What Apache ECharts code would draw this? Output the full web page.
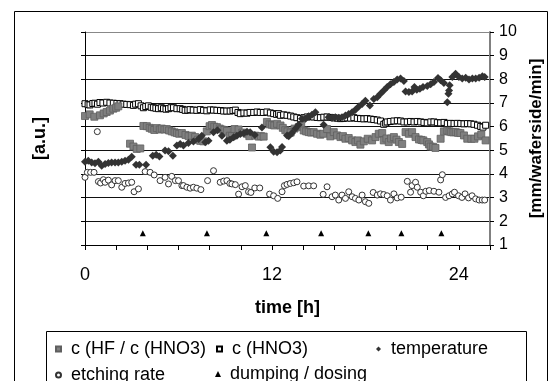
<!DOCTYPE html>
<html><head><meta charset="utf-8">
<script src="https://cdn.jsdelivr.net/npm/echarts@6/dist/echarts.min.js"></script>
<style>html,body{margin:0;padding:0;background:#fff}#c{width:559px;height:381px}</style>
</head><body><div id="c"></div>
<script>
// ---- data ----
const xLabels = [0, 12, 24];
const yLabels = [1, 2, 3, 4, 5, 6, 7, 8, 9, 10];

const ratioT = [0,0.3,0.6,0.96,1.2,1.39,1.6,1.82,2.0,2.14,2.89,3.11,3.32,3.55,3.75,3.97,4.15,4.29,4.45,4.61,4.8,4.93,5.1,5.25,5.4,5.57,5.75,5.9,6.05,6.22,6.45,6.65,6.86,7.07,7.25,7.4,7.6,7.82,8.0,8.15,8.3,8.47,8.65,8.79,8.95,9.11,9.3,9.43,9.6,9.86,10.1,10.4,10.55,10.72,10.93,11.15,11.3,11.47,11.68,11.85,12.0,12.15,12.33,12.55,12.7,12.86,13.0,13.2,13.45,13.72,13.88,14.04,14.2,14.36,14.52,14.68,14.9,15.11,15.3,15.54,15.75,15.97,16.18,16.4,16.56,16.72,16.93,17.15,17.36,17.52,17.68,17.9,18.15,18.43,18.65,18.86,19.08,19.18,19.35,19.5,19.65,19.83,20.0,20.15,20.36,20.58,20.79,21.0,21.22,21.44,21.6,21.72,21.97,22.08,22.19,22.35,22.5,22.83,23.04,23.26,23.4,23.51,23.65,23.8,23.95,24.1,24.33,24.54,24.8,25.0,25.23,25.44,25.72];
const ratioV = [6.45,6.52,6.42,6.48,6.56,6.62,6.68,6.76,6.8,6.86,5.28,5.16,5.06,5.08,6.03,6.02,5.95,5.91,5.86,5.94,5.88,5.92,5.88,5.9,5.84,5.8,5.76,5.73,5.7,5.73,5.65,5.6,5.62,5.56,5.45,5.4,5.38,5.8,6.02,6.07,6.0,5.98,5.92,5.88,5.86,5.82,5.62,5.6,5.9,5.88,5.75,5.7,5.6,5.12,5.62,5.58,5.6,5.58,6.2,6.1,6.08,6.05,6.12,6.05,5.95,5.85,5.8,5.75,5.92,5.98,6.05,5.84,5.8,5.77,5.75,5.77,5.7,5.66,5.7,5.9,5.59,5.77,5.63,5.56,5.6,5.49,5.52,5.42,5.35,5.42,5.24,5.38,5.49,5.42,5.56,5.7,5.73,5.42,5.5,5.35,5.5,5.56,5.45,5.35,5.27,5.77,5.7,5.77,5.56,5.46,5.44,5.42,5.35,5.25,5.16,5.15,5.1,5.49,5.8,5.83,5.8,5.77,5.76,5.77,5.74,5.73,5.63,5.49,5.49,5.49,5.59,5.67,5.42];

const hno3T = [0,0.2,0.32,0.5,0.64,0.8,0.96,1.15,1.39,1.6,1.82,2.05,2.25,2.45,2.68,2.9,3.11,3.25,3.43,3.6,3.75,3.9,4.07,4.25,4.39,4.55,4.72,4.9,5.04,5.2,5.36,5.52,5.68,5.9,6.11,6.27,6.43,6.6,6.75,6.95,7.18,7.4,7.61,7.82,8.04,8.25,8.47,8.7,8.9,9.1,9.32,9.5,9.65,9.82,9.97,10.2,10.4,10.6,10.83,11.05,11.25,11.45,11.68,11.9,12.11,12.3,12.43,12.54,12.75,12.97,13.2,13.4,13.6,13.83,14.05,14.26,14.47,14.68,14.9,15.11,15.33,15.54,15.75,15.97,16.2,16.4,16.6,16.83,17.05,17.26,17.48,17.69,17.9,18.11,18.33,18.54,18.76,18.97,19.18,19.3,19.4,19.6,19.83,20.05,20.26,20.47,20.69,20.9,21.12,21.33,21.55,21.76,21.97,22.2,22.4,22.62,22.83,23.05,23.26,23.47,23.69,23.9,24.12,24.33,24.55,24.76,24.97,25.2,25.4,25.55,25.72];
const hno3V = [6.97,6.93,6.92,6.98,6.99,6.95,7.02,7.0,7.03,7.0,6.99,6.98,6.97,6.95,6.94,6.93,6.9,6.95,6.97,6.88,6.8,6.85,6.88,6.82,6.8,6.78,6.76,6.8,6.76,6.74,6.76,6.8,6.8,6.76,6.76,6.73,6.69,6.7,6.72,6.7,6.69,6.72,6.69,6.67,6.71,6.7,6.69,6.68,6.66,6.66,6.66,6.68,6.7,6.6,6.55,6.58,6.57,6.6,6.6,6.62,6.6,6.6,6.62,6.58,6.55,6.52,6.55,6.48,6.5,6.48,6.45,6.41,6.38,6.34,6.38,6.41,6.42,6.41,6.39,6.38,6.4,6.41,6.39,6.37,6.36,6.34,6.35,6.37,6.36,6.38,6.35,6.34,6.33,6.34,6.32,6.3,6.28,6.24,6.1,6.15,6.2,6.22,6.24,6.25,6.24,6.2,6.2,6.22,6.2,6.22,6.2,6.18,6.16,6.2,6.2,6.17,6.16,6.18,6.13,6.14,6.13,6.14,6.13,6.12,6.13,6.12,6.1,6.06,6.01,5.98,6.06];

const tempT = [0.0,0.21,0.43,0.64,0.86,1.07,1.29,1.5,1.71,1.93,2.14,2.36,2.57,2.79,3.0,3.28,3.49,3.92,4.35,4.57,4.78,5.14,5.36,5.64,5.9,6.11,6.32,6.64,6.96,7.29,7.5,7.72,7.93,8.25,8.5,8.79,9.11,9.3,9.54,9.75,9.97,10.2,10.4,10.6,10.9,11.36,11.9,12.11,12.33,12.54,12.65,12.97,13.08,13.29,13.5,13.72,13.93,14.15,14.36,14.57,14.79,15.32,15.64,15.86,16.07,16.29,16.5,16.72,16.93,17.15,17.36,17.58,17.79,18.0,18.29,18.54,18.76,18.97,19.18,19.4,19.61,19.83,20.04,20.26,20.47,20.58,20.79,21.0,21.15,21.3,21.5,21.7,21.97,22.19,22.4,22.66,22.83,23.04,23.26,23.33,23.37,23.41,23.58,23.79,24.0,24.22,24.44,24.65,24.87,25.08,25.3,25.51,25.66];
const tempV = [4.52,4.56,4.49,4.45,4.52,4.35,4.42,4.46,4.49,4.49,4.49,4.52,4.56,4.6,4.73,4.39,4.39,4.39,4.77,4.81,4.74,4.99,4.96,4.77,5.2,5.27,5.2,5.31,5.37,5.48,5.62,5.34,5.41,5.76,5.85,5.62,5.41,5.45,5.55,5.62,5.69,5.72,5.79,5.76,5.65,5.97,5.13,4.94,4.92,4.99,5.14,5.63,5.6,5.73,5.91,6.08,6.33,6.33,6.44,6.5,6.61,6.08,6.4,6.38,6.4,6.38,6.4,6.47,6.54,6.61,6.72,6.85,6.96,7.1,6.89,7.17,7.24,7.39,7.53,7.68,7.79,7.89,7.99,8.03,7.93,7.49,7.46,7.49,7.68,7.56,7.6,7.68,7.72,7.79,7.89,8.06,7.96,7.84,7.03,7.39,7.53,7.75,8.1,8.24,8.1,8.03,8.07,7.99,8.03,8.03,8.07,8.13,8.1];

const etchT = [0.0,0.15,0.36,0.58,0.79,0.86,1.0,1.18,1.29,1.5,1.71,1.93,2.14,2.36,2.57,2.79,3.0,3.15,3.43,3.86,4.18,4.44,4.82,5.14,5.36,5.57,5.8,6.0,6.22,6.32,6.54,6.75,6.96,7.18,7.44,7.87,8.25,8.68,8.9,9.11,9.3,9.43,9.65,9.86,10.08,10.29,10.5,10.65,10.9,11.22,11.85,12.11,12.37,12.65,12.8,12.97,13.18,13.4,13.61,14.04,14.36,14.68,15.29,15.54,15.86,16.07,16.29,16.5,16.72,16.93,17.15,17.36,17.58,17.79,18.0,18.22,18.5,18.76,18.97,19.18,19.4,19.61,19.83,20.04,20.3,20.69,20.9,21.0,21.22,21.33,21.55,21.72,21.88,22.1,22.4,22.72,22.83,22.94,23.15,23.37,23.58,23.72,23.98,24.2,24.4,24.62,24.85,25.08,25.3,25.5,25.66];
const etchV = [3.86,4.07,4.07,4.07,5.79,3.68,3.62,3.76,3.65,3.74,3.54,3.72,3.72,3.44,3.6,3.62,3.65,3.25,3.37,4.1,4.07,3.96,3.72,3.86,3.58,3.9,3.72,3.72,3.51,3.51,3.44,3.4,3.44,3.4,3.34,3.72,4.14,3.65,3.7,3.72,3.6,3.58,3.55,3.15,3.46,3.51,3.25,3.22,3.41,3.41,3.15,3.08,2.97,3.25,3.51,3.56,3.6,3.63,3.67,3.49,3.5,3.5,3.14,3.46,3.04,3.11,2.9,3.11,2.97,3.25,3.04,2.97,2.9,3.11,2.83,2.76,3.22,3.11,3.16,3.13,3.08,2.9,3.16,2.99,3.02,3.69,3.23,3.51,3.65,3.44,3.23,3.08,3.27,3.3,3.27,3.23,3.75,3.97,3.01,3.08,3.16,3.23,3.08,3.01,3.16,2.99,3.08,2.95,2.9,2.9,2.9];

const dumpT = [3.71, 7.83, 11.64, 15.16, 18.19, 20.31, 22.88];
const dumpV = [1.5, 1.5, 1.5, 1.5, 1.5, 1.5, 1.5];

const names = ['c (HF / c (HNO3)', 'c (HNO3)', 'temperature', 'etching rate', 'dumping / dosing'];

// ---- chart ----
const FONT = '"Liberation Sans", Arial, sans-serif';
const pairs = (t, v) => t.map((x, i) => [x, v[i]]);
const chart = echarts.init(document.getElementById('c'), null, {renderer: 'canvas'});

const legendBase = (name, left, top, size) => ({
  data: [name], left: left, top: top, orient: 'horizontal',
  itemWidth: size, itemHeight: size, padding: 0,
  textStyle: {fontFamily: FONT, fontSize: 18, color: '#000', padding: [0, 0, 0, 4 + (6 - size)]}
});

chart.setOption({
  backgroundColor: '#fff',
  animation: false,
  textStyle: {fontFamily: FONT},
  grid: {left: 85, right: 69, top: 32, bottom: 136},
  xAxis: {
    type: 'value', min: 0, max: 26, interval: 2,
    name: 'time [h]', nameLocation: 'middle', nameGap: 54,
    nameTextStyle: {fontFamily: FONT, fontWeight: 'bold', fontSize: 18, color: '#000'},
    axisLine: {show: true, lineStyle: {color: '#000', width: 1}},
    axisTick: {show: true, length: 5, lineStyle: {color: '#000'}},
    axisLabel: {fontFamily: FONT, fontSize: 18, color: '#000', margin: 21,
      formatter: v => xLabels.indexOf(v) >= 0 ? String(v) : ''},
    splitLine: {show: false}
  },
  yAxis: [
    {
      type: 'value', position: 'left', min: 1, max: 10, interval: 1,
      name: '[a.u.]', nameLocation: 'middle', nameGap: 36, nameRotate: 90,
      nameTextStyle: {fontFamily: FONT, fontWeight: 'bold', fontSize: 18, color: '#000'},
      axisLine: {show: true, lineStyle: {color: '#000'}},
      axisTick: {show: true, length: 4, lineStyle: {color: '#000'}},
      axisLabel: {show: false},
      splitLine: {show: false}
    },
    {
      type: 'value', position: 'right', min: 1, max: 10, interval: 1,
      name: '[mm/waferside/min]', nameLocation: 'middle', nameGap: 38, nameRotate: 90,
      nameTextStyle: {fontFamily: FONT, fontWeight: 'bold', fontSize: 17, color: '#000'},
      axisLine: {show: true, lineStyle: {color: '#808080', width: 2}},
      axisTick: {show: true, length: 4, lineStyle: {color: '#000'}},
      axisLabel: {fontFamily: FONT, fontSize: 16, color: '#000', margin: 9,
        formatter: v => yLabels.indexOf(v) >= 0 ? String(v) : ''},
      splitLine: {show: true, lineStyle: {color: ['#000','#111','#111','#111','#111','#111','#111','#111','#111','#888'], width: 1}}
    }
  ],
  legend: [
    legendBase(names[0], 55, 340, 5),
    legendBase(names[1], 216, 340, 5),
    legendBase(names[2], 376, 340, 5),
    legendBase(names[3], 55, 366, 5),
    legendBase(names[4], 215, 365, 6)
  ],
  graphic: [
    {type: 'rect', z: 100, silent: true, shape: {x: 14.5, y: 11.5, width: 533, height: 420},
     style: {fill: 'none', stroke: '#000', lineWidth: 1}},
    {type: 'rect', z: 100, silent: true, shape: {x: 46.5, y: 331.5, width: 480, height: 100},
     style: {fill: 'none', stroke: '#000', lineWidth: 1}}
  ],
  series: [
    {name: names[0], type: 'scatter', yAxisIndex: 0, symbol: 'rect', symbolSize: 7,
     itemStyle: {color: '#808080', borderColor: '#5f5f5f', borderWidth: 0.8, opacity: 1},
     data: pairs(ratioT, ratioV), z: 3},
    {name: names[1], type: 'scatter', yAxisIndex: 0, symbol: 'rect', symbolSize: 6,
     itemStyle: {color: '#fff', borderColor: '#000', borderWidth: 1, opacity: 1},
     data: pairs(hno3T, hno3V), z: 2},
    {name: names[2], type: 'scatter', yAxisIndex: 0, symbol: 'diamond', symbolSize: 8,
     itemStyle: {color: '#333', opacity: 1},
     data: pairs(tempT, tempV), z: 4},
    {name: names[3], type: 'scatter', yAxisIndex: 0, symbol: 'circle', symbolSize: 6,
     itemStyle: {color: '#fff', borderColor: '#333', borderWidth: 1, opacity: 1},
     data: pairs(etchT, etchV), z: 2},
    {name: names[4], type: 'scatter', yAxisIndex: 0, symbol: 'triangle', symbolSize: 6,
     itemStyle: {color: '#000', opacity: 1},
     data: pairs(dumpT, dumpV), z: 2}
  ]
});
</script></body></html>
